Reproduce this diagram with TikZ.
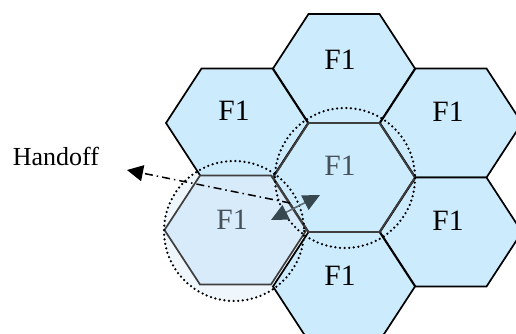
\documentclass[tikz,border=0pt]{standalone}
\usepackage{fontspec}
\setmainfont{Liberation Serif}
\usetikzlibrary{arrows.meta}
\definecolor{hexblue}{HTML}{CCEBFD}
\definecolor{hexlight}{HTML}{D7EBFB}
\definecolor{circfill}{HTML}{EFF7FD}
\definecolor{edgegray}{HTML}{3F3F3F}
\definecolor{textgray}{HTML}{46515A}
\definecolor{slate}{HTML}{37474F}
\newcommand\myhex[3]{%
  \draw[#3] (#1,#2) ++(-71,0) -- ++(35.5,-54.5) -- ++(71,0) -- ++(35.5,54.5)
    -- ++(-35.5,54.5) -- ++(-71,0) -- cycle;}
\tikzset{
  hexcell/.style={fill=hexblue, draw=black, line width=1.7pt, line join=miter},
  hexfaint/.style={fill=hexlight, draw=edgegray, line width=1.7pt},
  hexedge/.style={draw=edgegray, line width=1.7pt},
  lbl/.style={font=\fontsize{29.5}{31}\selectfont, text=black, inner sep=0pt},
  lblgray/.style={lbl, text=textgray},
  dotcirc/.style={draw=black, line width=2.5pt, dash pattern=on 0pt off 4.6pt, line cap=round},
  handoffline/.style={draw=black, line width=1.5pt, dash pattern=on 8pt off 4pt on 1.5pt off 4pt,
    -{Triangle[length=16pt,width=16pt]}},
  moveline/.style={draw=slate!80, line width=1.6pt,
    {Triangle[length=17pt,width=16pt,color=slate]}-{Triangle[length=17pt,width=16pt,color=slate]}}
}
\begin{document}
\begin{tikzpicture}[x=1pt,y=-1pt]
\useasboundingbox (0,0) rectangle (516,334);
% light fill of the handoff circle
\fill[circfill] (234,231) circle (70);
% cells
\myhex{344}{68.5}{hexcell}
\myhex{237}{123}{hexcell}
\myhex{451}{123}{hexcell}
\myhex{451}{232}{hexcell}
\myhex{344}{286.5}{hexcell}
\myhex{344}{177.5}{hexcell}
\myhex{344}{177.5}{hexedge}
\myhex{235.5}{230}{hexfaint}
% labels
\node[lbl] (t) at (340,60) {F1};
\node[lbl] (ul) at (234,111) {F1};
\node[lbl] (ur) at (448,112) {F1};
\node[lbl] (lr) at (448,221) {F1};
\node[lbl] (b) at (340,276) {F1};
\node[lblgray] (c) at (340,166) {F1};
\node[lblgray] (ll) at (232,220) {F1};
\node[font=\fontsize{26}{28}\selectfont, inner sep=0pt] (h) at (56,156) {Handoff};
% coverage circles
\draw[dotcirc] (345,178) circle (70);
\draw[dotcirc] (234,231) circle (70);
% arrows
\coordinate (hs) at (290,203);
\coordinate (he) at (127,170);
\draw[handoffline] (hs) -- (he);
\coordinate (ma) at (271,220);
\coordinate (mb) at (320,195);
\draw[moveline] (ma) -- (mb);
\end{tikzpicture}
\end{document}
